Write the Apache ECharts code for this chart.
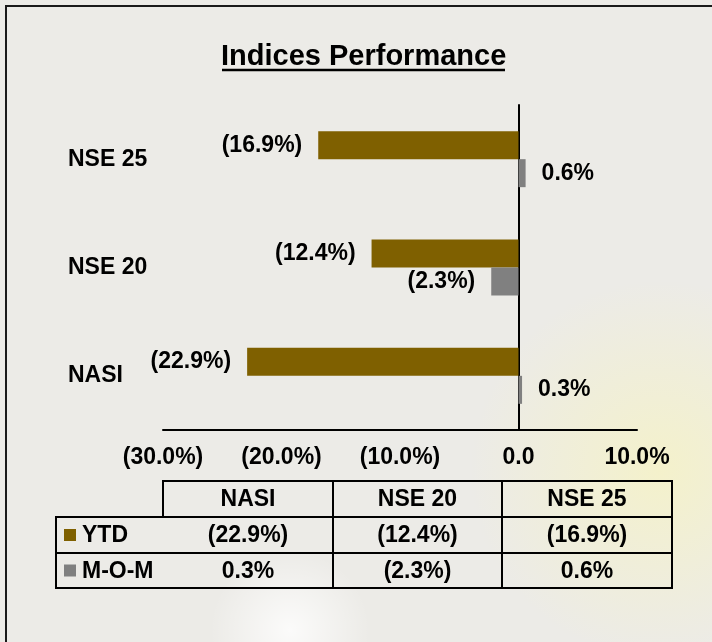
<!DOCTYPE html>
<html>
<head>
<meta charset="utf-8">
<script src="https://cdn.jsdelivr.net/npm/echarts@6/dist/echarts.min.js"></script>
<style type="text/css">
    #main {width:712px;height:642px;position:absolute;}
    body {margin:0px;padding:0px;overflow:hidden;}
</style>
</head>
<body>
<div id="main"></div>
<script type="text/javascript">
// data
let categories = ['NASI', 'NSE 20', 'NSE 25'];
let seriesNames = ['YTD', 'M-O-M'];
let ytd = [-22.9, -12.4, -16.9];
let mom = [0.3, -2.3, 0.6];
let xTicks = [-30, -20, -10, 0, 10];
let colors = ['#7f6000', '#808080'];

const FONT = "'Liberation Sans', Arial, sans-serif";

function fmt(v) {
    if (v === 0) return '0.0';
    if (v < 0) return '(' + Math.abs(v).toFixed(1) + '%)';
    return v.toFixed(1) + '%';
}

// bar items, label goes on the outer end of each bar
function barData(values) {
    return values.map(function (v) {
        return {value: v, label: {position: v < 0 ? 'left' : 'right'}};
    });
}

let myChart = echarts.init(document.getElementById('main'));

// data table under the chart
let colX = [56, 163, 333, 502, 672];
let rowY = [481, 517, 553, 588];
let lineStyle = {stroke: '#000', lineWidth: 2};
let table = [];
table.push({type: 'rect', shape: {x: colX[1], y: rowY[0], width: colX[4] - colX[1], height: rowY[1] - rowY[0]}, style: {fill: 'none', stroke: '#000', lineWidth: 2}});
table.push({type: 'rect', shape: {x: colX[0], y: rowY[1], width: colX[4] - colX[0], height: rowY[3] - rowY[1]}, style: {fill: 'none', stroke: '#000', lineWidth: 2}});
table.push({type: 'line', shape: {x1: colX[0], y1: rowY[2], x2: colX[4], y2: rowY[2]}, style: lineStyle});
for (let i = 2; i < 4; i++) {
    table.push({type: 'line', shape: {x1: colX[i], y1: rowY[0], x2: colX[i], y2: rowY[3]}, style: lineStyle});
}
let rows = [ytd, mom];
for (let c = 0; c < categories.length; c++) {
    let cx = (colX[c + 1] + colX[c + 2]) / 2;
    table.push({type: 'text', x: cx, y: (rowY[0] + rowY[1]) / 2 + 1, style: {text: categories[c], font: 'bold 23px ' + FONT, fill: '#000', align: 'center', verticalAlign: 'middle'}});
    for (let r = 0; r < rows.length; r++) {
        table.push({type: 'text', x: cx, y: (rowY[r + 1] + rowY[r + 2]) / 2 + 1, style: {text: fmt(rows[r][c]), font: 'bold 23px ' + FONT, fill: '#000', align: 'center', verticalAlign: 'middle'}});
    }
}
for (let r = 0; r < seriesNames.length; r++) {
    let cy = (rowY[r + 1] + rowY[r + 2]) / 2;
    table.push({type: 'rect', shape: {x: 64, y: cy - 6, width: 12, height: 12}, style: {fill: colors[r]}});
    table.push({type: 'text', x: 82, y: cy + 1, style: {text: seriesNames[r], font: 'bold 23px ' + FONT, fill: '#000', align: 'left', verticalAlign: 'middle'}});
}

let option = {
    animation: false,
    backgroundColor: '#ecebe7',
    title: {
        text: 'Indices Performance',
        left: 221,
        top: 42,
        padding: 0,
        textStyle: {fontFamily: FONT, fontSize: 29, fontWeight: 'bold', color: '#000'}
    },
    grid: {left: 163, right: 75, top: 105, bottom: 212, containLabel: false, outerBoundsMode: 'none'},
    xAxis: {
        type: 'value',
        min: -30,
        max: 10,
        interval: 10,
        axisLine: {show: true, lineStyle: {color: '#000', width: 2}},
        axisTick: {show: false},
        splitLine: {show: false},
        axisLabel: {
            margin: 16,
            color: '#000',
            fontFamily: FONT,
            fontSize: 23,
            fontWeight: 'bold',
            formatter: fmt
        }
    },
    yAxis: {
        type: 'category',
        data: categories,
        axisLine: {show: true, onZero: true, lineStyle: {color: '#000', width: 2}},
        axisTick: {show: false},
        axisLabel: {
            margin: 95,
            align: 'left',
            color: '#000',
            fontFamily: FONT,
            fontSize: 23,
            fontWeight: 'bold'
        }
    },
    series: [
        {
            name: seriesNames[0],
            type: 'bar',
            data: barData(ytd),
            barWidth: 28,
            barGap: '0%',
            itemStyle: {color: colors[0]},
            label: {show: true, distance: 16, color: '#000', fontFamily: FONT, fontSize: 23, fontWeight: 'bold', formatter: function (p) { return fmt(p.value); }}
        },
        {
            name: seriesNames[1],
            type: 'bar',
            data: barData(mom),
            barWidth: 28,
            barGap: '0%',
            itemStyle: {color: colors[1]},
            label: {show: true, distance: 16, color: '#000', fontFamily: FONT, fontSize: 23, fontWeight: 'bold', formatter: function (p) { return fmt(p.value); }}
        }
    ],
    graphic: [
        // soft background glows
        {type: 'circle', z: -10, silent: true, shape: {cx: 660, cy: 470, r: 190}, style: {fill: new echarts.graphic.RadialGradient(0.5, 0.5, 0.5, [{offset: 0, color: 'rgba(245,242,200,0.9)'}, {offset: 1, color: 'rgba(245,242,200,0)'}])}},
        {type: 'circle', z: -10, silent: true, shape: {cx: 290, cy: 630, r: 80}, style: {fill: new echarts.graphic.RadialGradient(0.5, 0.5, 0.5, [{offset: 0, color: 'rgba(255,255,255,0.8)'}, {offset: 1, color: 'rgba(255,255,255,0)'}])}},
        // frame
        {type: 'rect', silent: true, shape: {x: 6, y: 6, width: 740, height: 680}, style: {fill: 'none', stroke: '#1a1a1a', lineWidth: 2}},
        // title underline
        {type: 'line', silent: true, shape: {x1: 222, y1: 70, x2: 505, y2: 70}, style: {stroke: '#000', lineWidth: 2.5}},
        {type: 'group', silent: true, children: table}
    ]
};
myChart.setOption(option);

window.onresize = myChart.resize;
</script>
</body>
</html>
